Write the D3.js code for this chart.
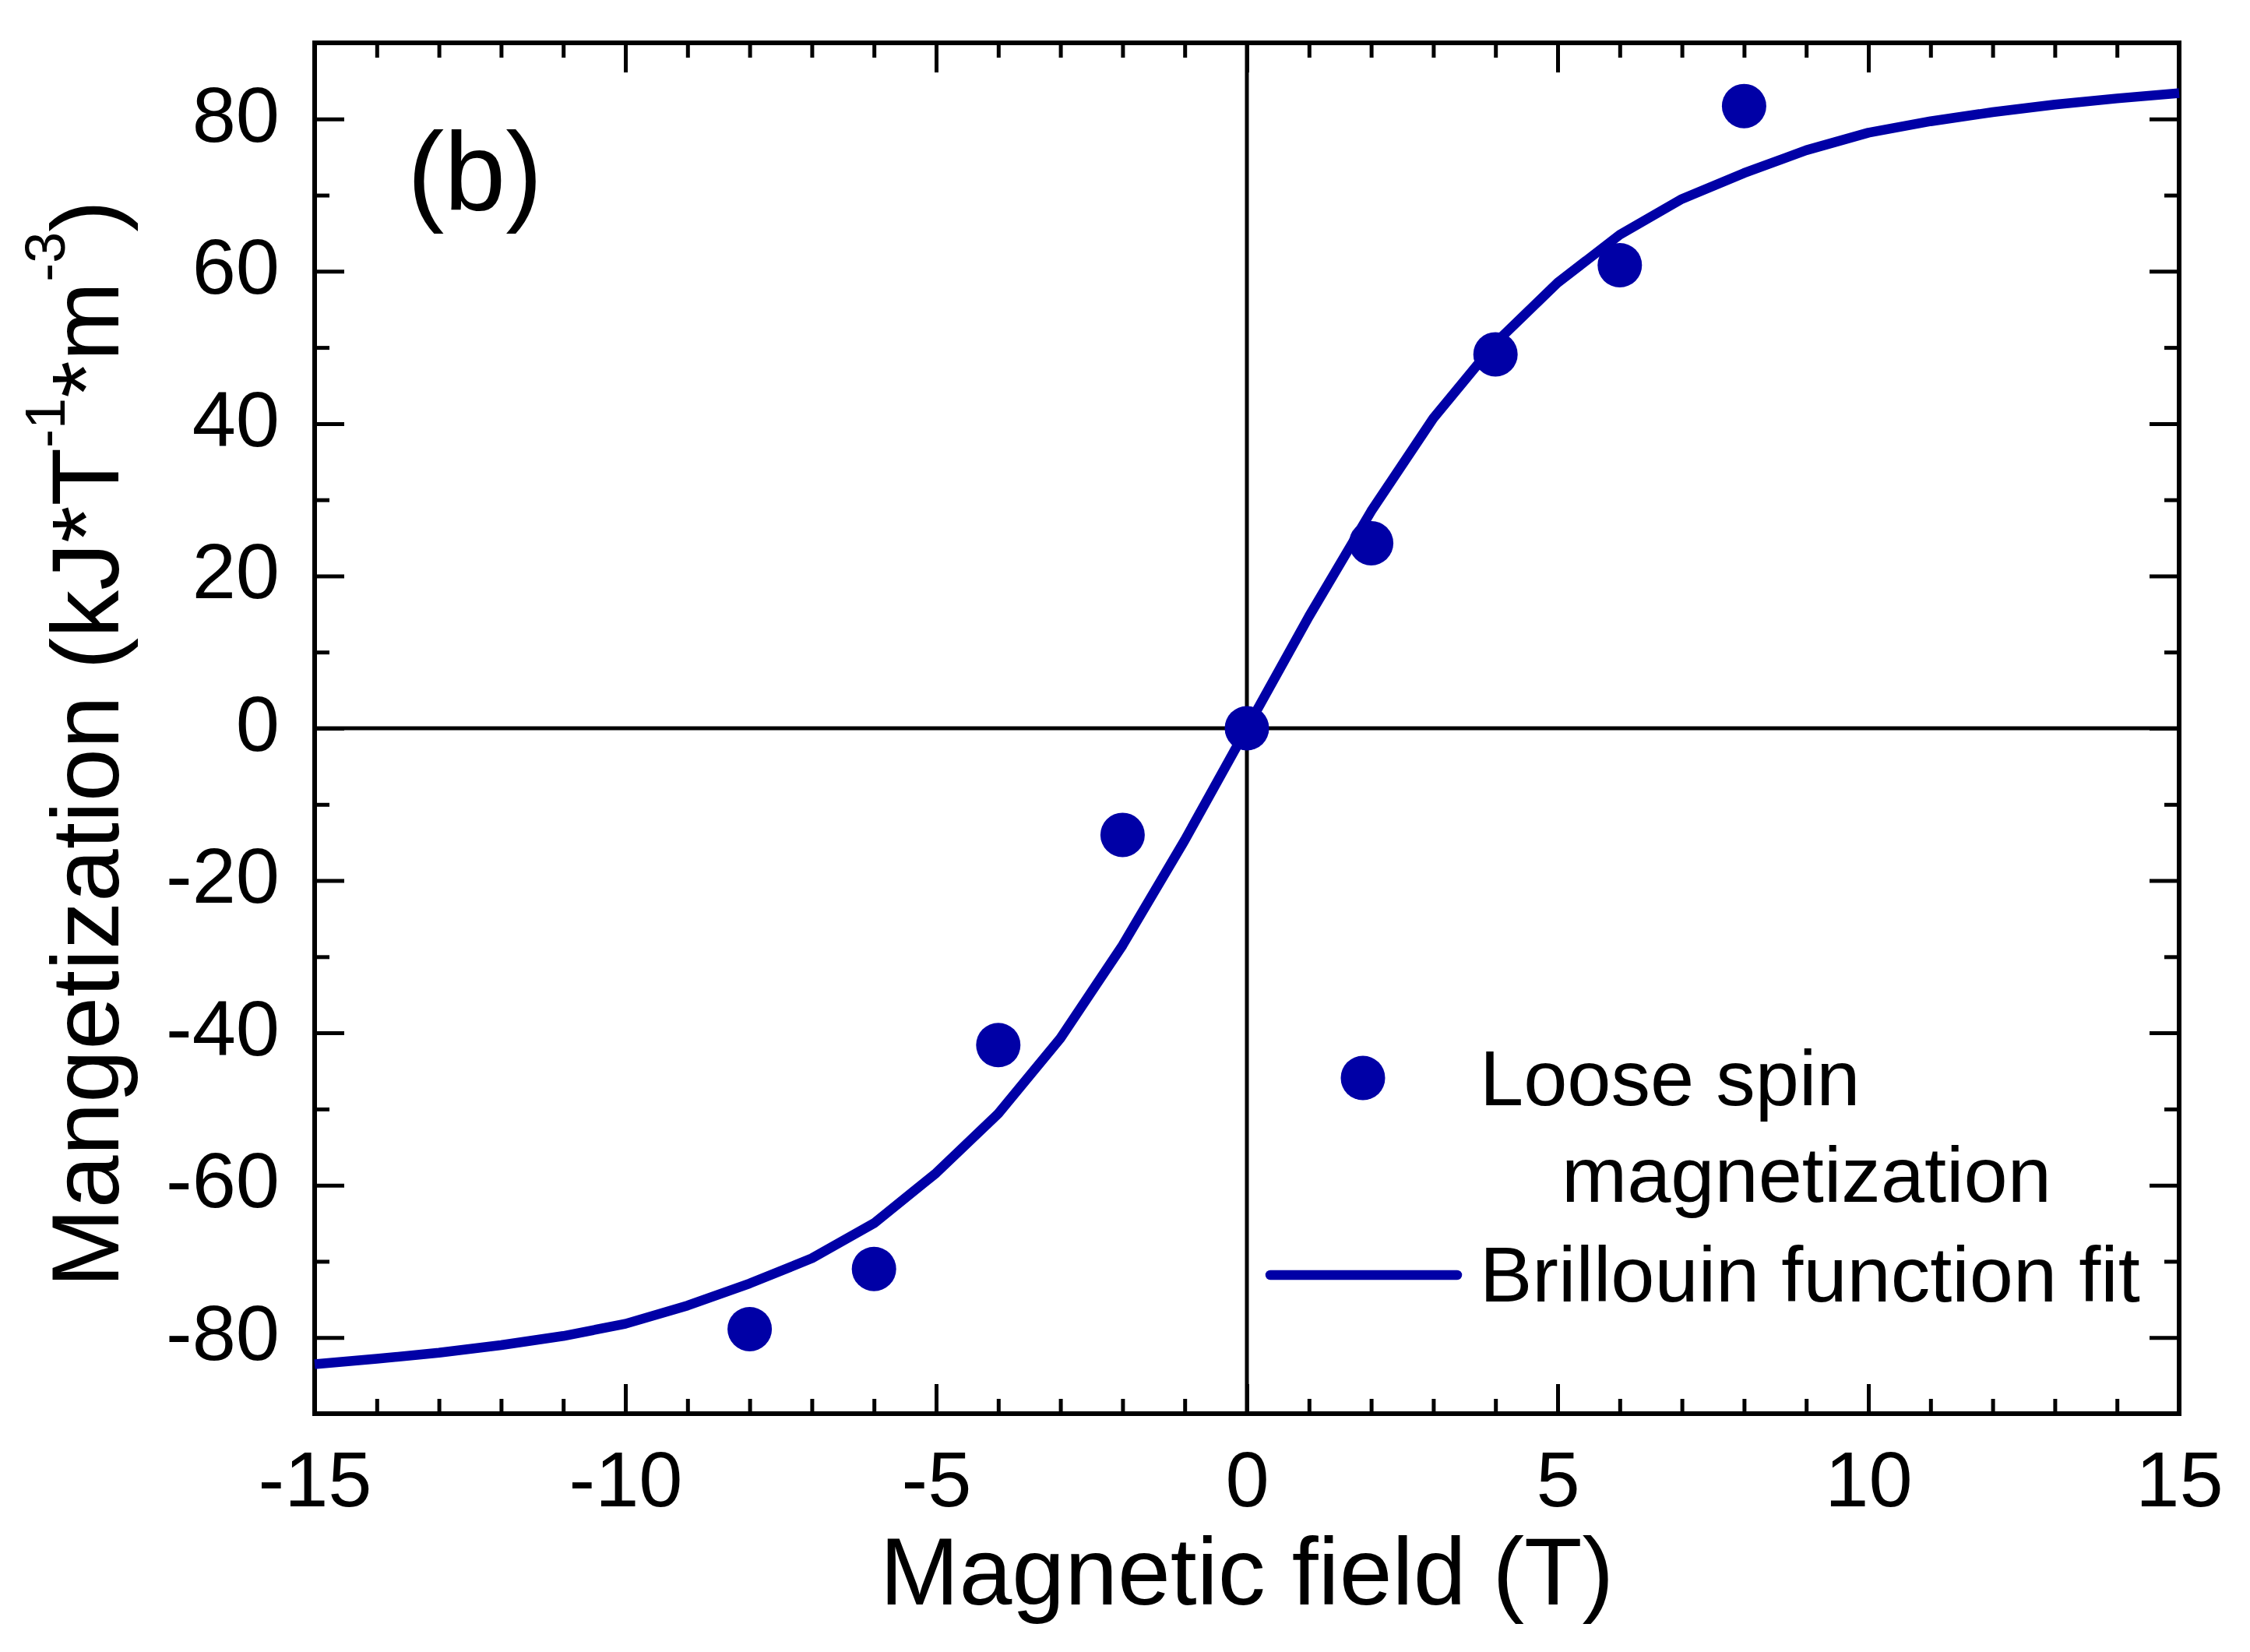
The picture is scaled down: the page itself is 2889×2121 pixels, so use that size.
<!DOCTYPE html>
<html>
<head>
<meta charset="utf-8">
<script src="https://cdn.jsdelivr.net/npm/d3@7"></script>
<style>
  body { margin: 0; background: #fff; }
  svg text { font-family: "Liberation Sans", Arial, sans-serif; fill: #000; }
</style>
</head>
<body>
<svg id="chart"></svg>
<script>
// measured loose spin magnetization
var fieldPts = [-8, -6, -4, -2, 0, 2, 4, 6, 8];
var magPts = [-78.9, -71.0, -41.6, -14.0, 0, 24.3, 49.1, 60.8, 81.7];

// Brillouin fit at 1 T steps
var fitField = [-15, -14, -13, -12, -11, -10, -9, -8, -7, -6, -5, -4, -3, -2, -1,
                0, 1, 2, 3, 4, 5, 6, 7, 8, 9, 10, 11, 12, 13, 14, 15];
var fitMag = [-83.5, -82.8, -82.0, -81.0, -79.8, -78.2, -75.8, -72.9, -69.6, -65.0, -58.4, -50.6, -40.7, -28.5, -14.7,
              0, 14.7, 28.5, 40.7, 50.6, 58.5, 64.8, 69.5, 72.9, 75.9, 78.2, 79.7, 80.9, 81.9, 82.7, 83.4];

var xTicks = [-15, -10, -5, 0, 5, 10, 15];
var yTicks = [-80, -60, -40, -20, 0, 20, 40, 60, 80];

var W = 2889, H = 2121;
var plotL = 404, plotR = 2798, plotT = 55, plotB = 1815;
var blue = "#0000A6";

var svg = d3.select("#chart").attr("width", W).attr("height", H);

var x = d3.scaleLinear().domain([-15, 15]).range([plotL, plotR]);
var y = d3.scaleLinear().domain([-90, 90]).range([plotB, plotT]);

var xMinor = d3.range(-15, 16, 1).filter(function (v) { return xTicks.indexOf(v) < 0; });
var yMinor = d3.range(-90, 91, 10).filter(function (v) { return yTicks.indexOf(v) < 0; });

// plain hyphen for negatives, like the original
var plainFmt = function (d) { return String(d); };

function styleAxis(g) {
    g.select(".domain").remove();
    g.selectAll(".tick line").attr("stroke", "#000").attr("stroke-width", 5);
}

// bottom axis with labels
svg.append("g")
    .attr("transform", "translate(0," + plotB + ")")
    .call(d3.axisBottom(x).tickValues(xTicks).tickSize(-38).tickPadding(47).tickFormat(plainFmt))
    .call(styleAxis)
    .call(function (g) {
        g.selectAll("text").attr("font-size", 101).attr("font-family", "Liberation Sans, Arial, sans-serif");
    });
svg.append("g")
    .attr("transform", "translate(0," + plotB + ")")
    .call(d3.axisBottom(x).tickValues(xMinor).tickSize(-19).tickFormat(""))
    .call(styleAxis);

// top axis, ticks only
svg.append("g")
    .attr("transform", "translate(0," + plotT + ")")
    .call(d3.axisTop(x).tickValues(xTicks).tickSize(-38).tickFormat(""))
    .call(styleAxis);
svg.append("g")
    .attr("transform", "translate(0," + plotT + ")")
    .call(d3.axisTop(x).tickValues(xMinor).tickSize(-19).tickFormat(""))
    .call(styleAxis);

// left axis with labels
svg.append("g")
    .attr("transform", "translate(" + plotL + ",0)")
    .call(d3.axisLeft(y).tickValues(yTicks).tickSize(-38).tickPadding(45).tickFormat(plainFmt))
    .call(styleAxis)
    .call(function (g) {
        g.selectAll("text").attr("font-size", 101).attr("dy", "0.28em")
            .attr("font-family", "Liberation Sans, Arial, sans-serif");
    });
svg.append("g")
    .attr("transform", "translate(" + plotL + ",0)")
    .call(d3.axisLeft(y).tickValues(yMinor).tickSize(-19).tickFormat(""))
    .call(styleAxis);

// right axis, ticks only
svg.append("g")
    .attr("transform", "translate(" + plotR + ",0)")
    .call(d3.axisRight(y).tickValues(yTicks).tickSize(-38).tickFormat(""))
    .call(styleAxis);
svg.append("g")
    .attr("transform", "translate(" + plotR + ",0)")
    .call(d3.axisRight(y).tickValues(yMinor).tickSize(-19).tickFormat(""))
    .call(styleAxis);

// zero lines
svg.append("line")
    .attr("x1", x(-15)).attr("x2", x(15)).attr("y1", y(0)).attr("y2", y(0))
    .attr("stroke", "#000").attr("stroke-width", 5);
svg.append("line")
    .attr("x1", x(0)).attr("x2", x(0)).attr("y1", y(-90)).attr("y2", y(90))
    .attr("stroke", "#000").attr("stroke-width", 5);

// frame
svg.append("rect")
    .attr("x", plotL).attr("y", plotT)
    .attr("width", plotR - plotL).attr("height", plotB - plotT)
    .attr("fill", "none").attr("stroke", "#000").attr("stroke-width", 6);

// fit curve
var fitData = fitField.map(function (f, i) { return [f, fitMag[i]]; });
svg.append("path")
    .datum(fitData)
    .attr("fill", "none")
    .attr("stroke", blue)
    .attr("stroke-width", 12.5)
    .attr("stroke-linejoin", "round")
    .attr("d", d3.line().x(function (d) { return x(d[0]); }).y(function (d) { return y(d[1]); }));

// data points
svg.append("g")
    .selectAll("circle")
    .data(fieldPts)
    .enter().append("circle")
    .attr("cx", function (d) { return x(d); })
    .attr("cy", function (d, i) { return y(magPts[i]); })
    .attr("r", 28.5)
    .attr("fill", blue);

// panel label
svg.append("text")
    .attr("x", 523).attr("y", 270)
    .attr("font-size", 142)
    .text("(b)");

// axis titles
svg.append("text")
    .attr("x", (plotL + plotR) / 2).attr("y", 2060)
    .attr("text-anchor", "middle")
    .attr("font-size", 122)
    .text("Magnetic field (T)");

var yTitle = svg.append("text")
    .attr("transform", "translate(152,1653) rotate(-90)")
    .attr("font-size", 122);
yTitle.append("tspan").text("Mangetization (kJ*T");
yTitle.append("tspan").attr("font-size", 72).attr("dy", -69).text("-1");
yTitle.append("tspan").attr("dy", 69).text("*m");
yTitle.append("tspan").attr("font-size", 72).attr("dy", -69).text("-3");
yTitle.append("tspan").attr("dy", 69).text(")");

// legend
var legend = svg.append("g");
legend.append("circle").attr("cx", 1750).attr("cy", 1384).attr("r", 28.5).attr("fill", blue);
legend.append("line")
    .attr("x1", 1631).attr("x2", 1871).attr("y1", 1637).attr("y2", 1637)
    .attr("stroke", blue).attr("stroke-width", 12.5).attr("stroke-linecap", "round");
legend.append("text").attr("x", 1900).attr("y", 1419).attr("font-size", 101).text("Loose spin");
legend.append("text").attr("x", 2005).attr("y", 1543).attr("font-size", 101).text("magnetization");
legend.append("text").attr("x", 1900).attr("y", 1671).attr("font-size", 101).text("Brillouin function fit");
</script>
</body>
</html>
